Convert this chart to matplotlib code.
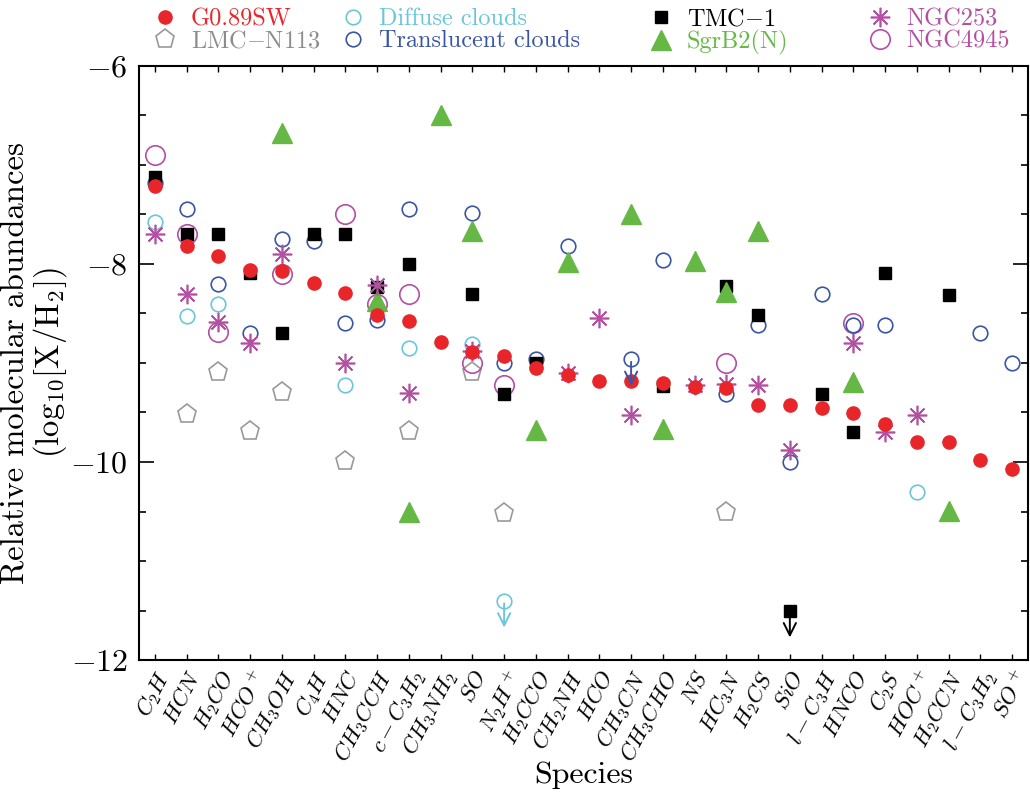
import numpy as np
import matplotlib.pyplot as plt

nan = np.nan

species = [r'$C_2H$', r'$HCN$', r'$H_2CO$', r'$HCO^+$', r'$CH_3OH$', r'$C_4H$',
           r'$HNC$', r'$CH_3CCH$', r'$c-C_3H_2$', r'$CH_3NH_2$', r'$SO$',
           r'$N_2H^+$', r'$H_2CCO$', r'$CH_2NH$', r'$HCO$', r'$CH_3CN$',
           r'$CH_3CHO$', r'$NS$', r'$HC_3N$', r'$H_2CS$', r'$SiO$', r'$l-C_3H$',
           r'$HNCO$', r'$C_2S$', r'$HOC^+$', r'$H_2CCN$', r'$l-C_3H_2$', r'$SO^+$']

# log10 abundances, nan = no value
g089sw = [-7.21, -7.82, -7.92, -8.06, -8.07, -8.19, -8.29, -8.52, -8.58, -8.79,
          -8.89, -8.93, -9.05, -9.12, -9.18, -9.18, -9.20, -9.24, -9.25, -9.42,
          -9.42, -9.45, -9.51, -9.62, -9.80, -9.80, -9.98, -10.07]
diffuse = [-7.58, -8.53, -8.40, nan, nan, nan, -9.22, nan, -8.85, nan,
           -8.81, nan, nan, nan, nan, nan, nan, nan, nan, nan,
           nan, nan, nan, nan, -10.30, nan, nan, nan]
translucent = [-7.18, -7.44, -8.20, -8.70, -7.75, -7.77, -8.60, -8.57, -7.44, nan,
               -7.49, -9.00, -8.96, -7.82, nan, nan, -7.96, nan, -9.31, -8.62,
               -10.00, -8.30, -8.62, -8.62, nan, nan, -8.70, -9.00]
tmc1 = [-7.12, -7.70, -7.70, -8.09, -8.70, -7.70, -7.70, -8.23, -8.00, nan,
        -8.30, -9.31, -9.00, nan, nan, nan, -9.23, nan, -8.22, -8.52,
        nan, -9.31, -9.70, -8.09, nan, -8.31, nan, nan]
sgrb2n = [nan, nan, nan, nan, -6.68, nan, nan, -8.37, -10.50, -6.50,
          -7.67, nan, -9.68, -7.98, nan, -7.50, -9.67, -7.97, -8.28, -7.67,
          nan, nan, -9.19, nan, nan, -10.49, nan, nan]
lmcn113 = [nan, -9.52, -9.09, -9.69, -9.29, nan, -9.99, nan, -9.69, nan,
           -9.09, -10.52, nan, nan, nan, nan, nan, nan, -10.51, nan,
           nan, nan, nan, nan, nan, nan, nan, nan]
ngc253 = [-7.70, -8.30, -8.59, -8.80, -7.90, nan, -9.00, -8.21, -9.30, nan,
          -8.88, nan, nan, -9.10, -8.55, -9.53, nan, -9.22, -9.21, -9.22,
          -9.88, nan, -8.80, -9.70, -9.53, nan, nan, nan]
ngc4945 = [-6.90, -7.70, -8.69, nan, -8.10, nan, -7.50, -8.40, -8.30, nan,
           -9.00, -9.22, nan, nan, nan, nan, nan, nan, -9.00, nan,
           nan, nan, -8.60, nan, nan, nan, nan, nan]

# upper limits: (species index, value)
diffuse_lim = [(11, -11.40)]
translucent_lim = [(15, -8.96)]
tmc1_lim = [(20, -11.50)]

c_red = '#e8262a'
c_cyan = '#6cc6d9'
c_blue = '#3a55a4'
c_green = '#66b845'
c_purple = '#b44fa2'
c_gray = '#999999'

plt.rcParams['font.family'] = 'cmr10'
plt.rcParams['mathtext.fontset'] = 'cm'
plt.rcParams['axes.formatter.use_mathtext'] = True
plt.rcParams['axes.unicode_minus'] = True

fig = plt.figure(figsize=(10.3, 7.93), dpi=100)
ax = fig.add_axes([0.135, 0.1677, 0.863, 0.7491])
x = np.arange(len(species))

h_lmc, = ax.plot(x, lmcn113, ls='none', marker='p', ms=14, mfc='none', mec=c_gray, mew=1.2)
h_4945, = ax.plot(x, ngc4945, ls='none', marker='o', ms=14, mfc='none', mec=c_purple, mew=1.2)
h_dif, = ax.plot(x, diffuse, ls='none', marker='o', ms=10.5, mfc='none', mec=c_cyan, mew=1.2)
h_tra, = ax.plot(x, translucent, ls='none', marker='o', ms=10.5, mfc='none', mec=c_blue, mew=1.2)
h_tmc, = ax.plot(x, tmc1, ls='none', marker='s', ms=8, color='black')
h_sgr, = ax.plot(x, sgrb2n, ls='none', marker='^', ms=15, color=c_green)
h_253, = ax.plot(x, ngc253, ls='none', marker=(8, 2, 0), ms=14, mec=c_purple, mew=1.2)
h_g08, = ax.plot(x, g089sw, ls='none', marker='o', ms=9.5, color=c_red)

# upper limits with arrows
for lims, col, style in [(diffuse_lim, c_cyan, 'o'), (translucent_lim, c_blue, 'o'),
                         (tmc1_lim, 'black', 's')]:
    for i, v in lims:
        if style == 'o':
            ax.plot(i, v, ls='none', marker='o', ms=10.5, mfc='none', mec=col, mew=1.2)
        else:
            ax.plot(i, v, ls='none', marker='s', ms=8, color=col)
        ax.annotate('', xy=(i, v - 0.3), xytext=(i, v),
                    arrowprops=dict(arrowstyle='->', color=col, lw=1.4, mutation_scale=22))

ax.set_xlim(-0.5, 27.5)
ax.set_ylim(-12, -6)
ax.set_xticks(x)
ax.set_xticklabels(species, rotation=62, ha='right', va='top',
                   rotation_mode='anchor', fontsize=16.5)
ax.set_yticks([-12, -10, -8, -6])
ax.set_yticks(np.arange(-12, -5.9, 0.5), minor=True)
ax.tick_params(axis='y', which='major', direction='in', length=11, width=1.2,
               labelsize=23, right=True, pad=8)
ax.tick_params(axis='y', which='minor', direction='in', length=5, width=1.2, right=True)
ax.tick_params(axis='x', which='major', direction='in', length=4, width=1.0,
               top=True, pad=5)
for s in ax.spines.values():
    s.set_linewidth(1.5)

ax.set_xlabel('Species', fontsize=23)
ax.xaxis.set_label_coords(0.5, -0.17)
ax.set_ylabel('Relative molecular abundances\n' + r'(log$_{10}$[X/H$_2$])',
              fontsize=23.5, linespacing=1.0)
ax.yaxis.set_label_coords(-0.079, 0.5)

# legend: four columns of two entries each
leg_handles = [[h_g08, h_lmc], [h_dif, h_tra], [h_tmc, h_sgr], [h_253, h_4945]]
leg_labels = [['G0.89SW', 'LMC$-$N113'], ['Diffuse clouds', 'Translucent clouds'],
              ['TMC$-$1', 'SgrB2(N)'], ['NGC253', 'NGC4945']]
leg_colors = [[c_red, '#8c8c8c'], [c_cyan, c_blue], ['black', c_green], [c_purple, c_purple]]
leg_x = [0.1485, 0.331, 0.630, 0.843]
for hs, ls_, cs, lx in zip(leg_handles, leg_labels, leg_colors, leg_x):
    leg = fig.legend(hs, ls_, loc='upper left', bbox_to_anchor=(lx, 0.99),
                     frameon=False, fontsize=17.5, handlelength=1.0, handletextpad=0.55,
                     labelspacing=0.0, borderpad=0.0, borderaxespad=0.0)
    for t, c in zip(leg.get_texts(), cs):
        t.set_color(c)

plt.savefig('out.png', dpi=100)
